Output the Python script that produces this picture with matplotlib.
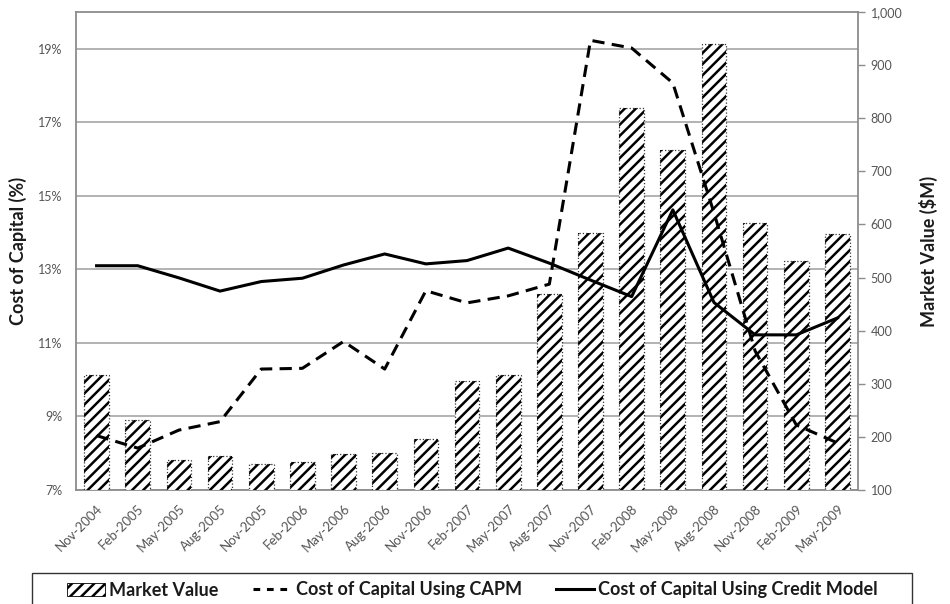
import numpy as np
import matplotlib
matplotlib.use('Agg')
import matplotlib.pyplot as plt
from matplotlib.patches import Patch, Rectangle
from matplotlib.lines import Line2D
from matplotlib.ticker import FuncFormatter

categories = ['Nov-2004', 'Feb-2005', 'May-2005', 'Aug-2005', 'Nov-2005', 'Feb-2006',
              'May-2006', 'Aug-2006', 'Nov-2006', 'Feb-2007', 'May-2007', 'Aug-2007',
              'Nov-2007', 'Feb-2008', 'May-2008', 'Aug-2008', 'Nov-2008', 'Feb-2009',
              'May-2009']
market_value = [317, 232, 156, 164, 149, 153, 167, 169, 197, 305, 317, 469,
                584, 820, 741, 939, 602, 532, 582]
capm = [8.48, 8.14, 8.63, 8.86, 10.29, 10.31, 11.04, 10.29, 12.42, 12.09, 12.28, 12.6,
        19.23, 19.02, 18.07, 14.54, 10.78, 8.77, 8.28]
credit = [13.1, 13.1, 12.77, 12.41, 12.67, 12.76, 13.12, 13.42, 13.15, 13.24, 13.58, 13.17,
          12.71, 12.26, 14.62, 12.1, 11.22, 11.22, 11.68]
left_ticks = [7, 9, 11, 13, 15, 17, 19]
right_ticks = [100, 200, 300, 400, 500, 600, 700, 800, 900, 1000]

plt.rcParams['hatch.linewidth'] = 1.8
plt.rcParams['font.family'] = ['Lato', 'DejaVu Sans']
tick_color = '#555555'
frame_color = '#8c8c8c'
title_font = dict(weight='bold', size=13, color='#1a1a1a')

fig = plt.figure(figsize=(9.5, 6.04), dpi=100)
ax = fig.add_axes([0.08, 0.1887, 0.8232, 0.7914])
x = np.arange(len(categories))

# gridlines on the bottom axis (left scale)
ax.set_ylim(7, 20)
ax.set_xlim(-0.5, len(categories) - 0.5)
ax.set_yticks(left_ticks)
ax.yaxis.set_major_formatter(FuncFormatter(lambda v, p: '%d%%' % v))
ax.grid(axis='y', color='#a6a6a6', linewidth=1.2)
ax.set_axisbelow(True)
ax.tick_params(axis='y', length=0, pad=10, labelsize=9, labelcolor=tick_color)
ax.set_xticks(x)
ax.set_xticklabels(categories, rotation=45, ha='right', rotation_mode='anchor')
ax.tick_params(axis='x', length=0, pad=9, labelsize=9.5, labelcolor=tick_color)
for s in ax.spines.values():
    s.set_color(frame_color)
    s.set_linewidth(1.3)
ax.set_ylabel('Cost of Capital (%)', fontdict=title_font, labelpad=8)

# bars on the right scale
ax2 = ax.twinx()
ax2.set_ylim(100, 1000)
ax2.set_yticks(right_ticks)
ax2.yaxis.set_major_formatter(FuncFormatter(lambda v, p: '{:,.0f}'.format(v)))
ax2.tick_params(axis='y', length=5, width=1, color=frame_color, pad=4,
                labelsize=9, labelcolor=tick_color)
ax2.bar(x, np.array(market_value) - 100, bottom=100, width=0.6, color='white',
        edgecolor='black', hatch='///', linewidth=0)
ax2.bar(x, np.array(market_value) - 100, bottom=100, width=0.6, fill=False,
        edgecolor='#333333', linewidth=0.9, linestyle=':')
for s in ax2.spines.values():
    s.set_visible(False)
ax2.set_ylabel('Market Value ($M)', fontdict=title_font, labelpad=12)

# lines on top, left scale
ax3 = ax.twinx()
ax3.set_ylim(7, 20)
ax3.set_yticks([])
for s in ax3.spines.values():
    s.set_visible(False)
ax3.plot(x, capm, color='black', linewidth=2.2, linestyle=(0, (4, 2.4)))
ax3.plot(x, credit, color='black', linewidth=2.2)

handles = [
    Patch(facecolor='white', edgecolor='black', hatch='///', linewidth=0.6),
    Line2D([], [], color='black', linewidth=2.2, linestyle=(0, (2.2, 2.2))),
    Line2D([], [], color='black', linewidth=2.2),
]
labels = ['Market Value', 'Cost of Capital Using CAPM', 'Cost of Capital Using Credit Model']
leg = fig.legend(handles, labels, loc='center left', bbox_to_anchor=(67 / 950, 14 / 604),
                 ncol=3, borderaxespad=0, borderpad=0, frameon=False,
                 handlelength=2.1, handletextpad=0.25, columnspacing=1.9,
                 prop=dict(weight='bold', size=13))
for t in leg.get_texts():
    t.set_color('#1a1a1a')
fig.patches.append(Rectangle((32 / 950, -0.02), 880 / 950, 0.0513 + 0.02,
                             transform=fig.transFigure, fill=False,
                             edgecolor='#333333', linewidth=1.0))

fig.savefig('out.png', dpi=100)
